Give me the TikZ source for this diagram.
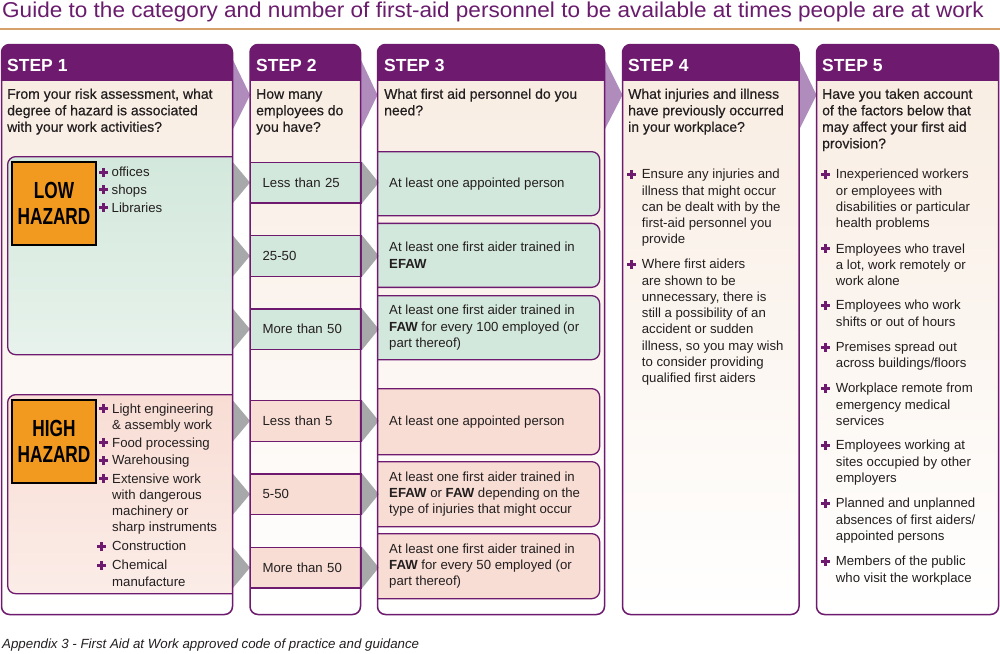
\documentclass[tikz,border=0pt]{standalone}
\usepackage{fontspec}
\setmainfont{Liberation Sans}
\newfontfamily\medfont[FakeBold=0.5]{Liberation Sans}
\usetikzlibrary{calc}
\definecolor{hpurple}{HTML}{6E1A6E}
\definecolor{tpurple}{HTML}{6A1C6C}
\definecolor{chevc}{HTML}{AF8CBC}
\definecolor{beige}{HTML}{F8ECE1}
\definecolor{lgreen}{HTML}{D3E8DC}
\definecolor{lpink}{HTML}{F8DDD4}
\definecolor{orangec}{HTML}{F29A1F}
\definecolor{greyc}{HTML}{A7A8AA}
\definecolor{tdark}{HTML}{231F20}
\definecolor{tanc}{HTML}{D6A06A}
\newcommand\hz[1]{\scalebox{0.74}[1]{\bfseries #1}}
\tikzset{
  txt/.style={anchor=north west, inner sep=0pt, align=left, text=tdark,
    font=\fontsize{13.2}{16.3}\selectfont},
  qtxt/.style={anchor=north west, inner sep=0pt, align=left, text=tdark,
    font=\medfont\fontsize{14}{16.5}\selectfont},
  txtw/.style={anchor=west, inner sep=0pt, align=left, text=tdark,
    font=\fontsize{13.2}{16.3}\selectfont},
  bulfill/.style={fill=hpurple},
  steplbl/.style={anchor=base west, inner sep=0pt, text=white,
    font=\bfseries\fontsize{17.5}{20}\selectfont},
  nbox/.style={anchor=north west, draw=hpurple, line width=1.3pt,
    minimum width=110.5pt, minimum height=40.5pt, text width=86.5pt,
    inner xsep=12pt, inner ysep=0pt, align=left, text=tdark,
    font=\fontsize{13.2}{16.3}\selectfont},
  abox/.style={anchor=north west, draw=hpurple, line width=1.3pt,
    rounded corners=8pt, minimum width=231.5pt, minimum height=64pt, inner sep=0pt},
  hazbox/.style={anchor=north west, draw=hpurple, line width=1.3pt,
    rounded corners=8pt, minimum width=238pt, inner sep=0pt},
  hazlbl/.style={draw=black, line width=1.2pt, fill=orangec, minimum width=84pt,
    minimum height=83pt, inner sep=0pt, align=center, text=black,
    font=\fontsize{23.3}{26.7}\selectfont},
  chev/.style={fill=chevc},
  gtri/.style={fill=greyc},
  colline/.style={draw=hpurple, line width=1.5pt, rounded corners=8pt}
}
% item: name, x, top y, bullet x-offset, text
\newcommand\itm[5]{%
  \node[txt] (#1) at (#2,#3) {\strut #5};
  \coordinate (#1b) at ($(#1.north west)+(#4,7.4)$);
  \fill[bulfill] ($(#1b)+(-4.4,-1.6)$) rectangle ($(#1b)+(4.4,1.6)$);
  \fill[bulfill] ($(#1b)+(-1.6,-4.4)$) rectangle ($(#1b)+(1.6,4.4)$);
}
\begin{document}
\begin{tikzpicture}[x=1pt,y=-1pt]
\useasboundingbox (0,0) rectangle (1000,653);
\fill[white] (0,0) rectangle (1000,653);

% title
\node[anchor=base west, inner sep=0pt, text=tpurple,
  font=\fontsize{21.5}{24}\selectfont] (title) at (2,17)
  {\scalebox{1.049}[1]{Guide to the category and number of first-aid personnel to be available at times people are at work}};
\draw[tanc, line width=2pt] (0,29) -- (1000,29);

% chevrons between columns
\foreach \xa/\xb in {232.5/250, 360.5/377.5, 604.5/622.5, 799/816.5}
  \fill[chev] (\xa,59) -- (\xb,95) -- (\xa,130) -- cycle;

% column backgrounds and headers
\foreach \xa/\xb in {1.5/232.5, 250/360.5, 377.5/604.5, 622.5/799, 816.5/998.5}{
  \fill[top color=beige, bottom color=white, rounded corners=8pt]
    (\xa,44.5) rectangle (\xb,614.5);
  \begin{scope}
    \clip (\xa-5,0) rectangle (\xb+5,80);
    \fill[hpurple, rounded corners=8pt] (\xa,44.5) rectangle (\xb,614.5);
  \end{scope}
}

% hazard boxes in step 1
\begin{scope}
  \clip (0,0) rectangle (232.5,653);
  \node[hazbox, minimum height=198pt, top color=lgreen, middle color=lgreen,
    bottom color=lgreen!55!white] (lowbox) at (7,156) {};
  \node[hazbox, minimum height=199pt, top color=lpink, middle color=lpink,
    bottom color=lpink!55!white] (highbox) at (7,394) {};
\end{scope}

% step 2 boxes
\node[nbox, fill=lgreen] (l1) at (250,161.7) {Less than 25};
\node[nbox, fill=lgreen] (l2) at (250,235) {25-50};
\node[nbox, fill=lgreen] (l3) at (250,308.3) {More than 50};
\node[nbox, fill=lpink] (h1) at (250,400) {Less than 5};
\node[nbox, fill=lpink] (h2) at (250,473.3) {5-50};
\node[nbox, fill=lpink] (h3) at (250,546.7) {More than 50};

% step 3 boxes
\begin{scope}
  \clip (377.5,0) rectangle (1000,653);
  \node[abox, fill=lgreen] (a1) at (367.5,151) {};
  \node[abox, fill=lgreen] (a2) at (367.5,222.7) {};
  \node[abox, fill=lgreen] (a3) at (367.5,295) {};
  \node[abox, fill=lpink, minimum height=66pt] (b1) at (367.5,388) {};
  \node[abox, fill=lpink, minimum height=65pt] (b2) at (367.5,461) {};
  \node[abox, fill=lpink, minimum height=65pt] (b3) at (367.5,533) {};
\end{scope}

% grey arrows
\foreach \b in {l1,l2,l3,h1,h2,h3}{
  \fill[gtri] ([xshift=-17.5pt]\b.north west) -- (\b.west) -- ([xshift=-17.5pt]\b.south west) -- cycle;
  \fill[gtri] (\b.north east) -- ([xshift=17pt]\b.east) -- (\b.south east) -- cycle;
}

% column outlines
\foreach \xa/\xb in {1.5/232.5, 250/360.5, 377.5/604.5, 622.5/799, 816.5/998.5}
  \draw[colline] (\xa,44.5) rectangle (\xb,614.5);

% step headers
\node[steplbl] (s1) at (7,71) {STEP 1};
\node[steplbl] (s2) at (256,71) {STEP 2};
\node[steplbl] (s3) at (384,71) {STEP 3};
\node[steplbl] (s4) at (628,71) {STEP 4};
\node[steplbl] (s5) at (822,71) {STEP 5};

% questions
\node[qtxt] (q1) at (7,87) {\strut From your risk assessment, what\\degree of hazard is associated\\with your work activities?};
\node[qtxt] (q2) at (256,87) {\strut How many\\employees do\\you have?};
\node[qtxt] (q3) at (384,87) {\strut What first aid personnel do you\\need?};
\node[qtxt] (q4) at (628,87) {\strut What injuries and illness\\have previously occurred\\in your workplace?};
\node[qtxt] (q5) at (822,87) {\strut Have you taken account\\of the factors below that\\may affect your first aid\\provision?};

% hazard labels
\node[hazlbl] (lowlbl) at (54,203.5) {\hz{LOW}\\\hz{HAZARD}};
\node[hazlbl] (highlbl) at (54,441.5) {\hz{HIGH}\\\hz{HAZARD}};

% step 1 items
\itm{lo1}{111.5}{164.8}{-8}{offices}
\itm{lo2}{111.5}{182.4}{-8}{shops}
\itm{lo3}{111.5}{200.4}{-8}{Libraries}
\itm{hi1}{112}{401.4}{-8.2}{Light engineering\\\& assembly work}
\itm{hi2}{112}{435.4}{-8.2}{Food processing}
\itm{hi3}{112}{453.1}{-8.2}{Warehousing}
\itm{hi4}{112}{471.4}{-8.2}{Extensive work\\with dangerous\\machinery or\\sharp instruments}
\itm{hi5}{112}{538.8}{-10.3}{Construction}
\itm{hi6}{112}{558.1}{-10.3}{Chemical\\manufacture}

% step 3 texts
\node[txtw] (a1t) at ([xshift=21.5pt]a1.west) {At least one appointed person};
\node[txtw] (a2t) at ([xshift=21.5pt]a2.west) {At least one first aider trained in\\\textbf{EFAW}};
\node[txtw] (a3t) at ([xshift=21.5pt]a3.west) {At least one first aider trained in\\\textbf{FAW} for every 100 employed (or\\part thereof)};
\node[txtw] (b1t) at ([xshift=21.5pt]b1.west) {At least one appointed person};
\node[txtw] (b2t) at ([xshift=21.5pt]b2.west) {At least one first aider trained in\\\textbf{EFAW} or \textbf{FAW} depending on the\\type of injuries that might occur};
\node[txtw] (b3t) at ([xshift=21.5pt]b3.west) {At least one first aider trained in\\\textbf{FAW} for every 50 employed (or\\part thereof)};

% step 4 items
\itm{f1}{641.7}{167.1}{-10.2}{Ensure any injuries and\\illness that might occur\\can be dealt with by the\\first-aid personnel you\\provide}
\itm{f2}{641.7}{257.1}{-10.2}{Where first aiders\\are shown to be\\unnecessary, there is\\still a possibility of an\\accident or sudden\\illness, so you may wish\\to consider providing\\qualified first aiders}

% step 5 items
\itm{g1}{835.7}{167.1}{-9.9}{Inexperienced workers\\or employees with\\disabilities or particular\\health problems}
\itm{g2}{835.7}{241.4}{-9.9}{Employees who travel\\a lot, work remotely or\\work alone}
\itm{g3}{835.7}{298.1}{-9.9}{Employees who work\\shifts or out of hours}
\itm{g4}{835.7}{339.8}{-9.9}{Premises spread out\\across buildings/floors}
\itm{g5}{835.7}{381.1}{-9.9}{Workplace remote from\\emergency medical\\services}
\itm{g6}{835.7}{438.1}{-9.9}{Employees working at\\sites occupied by other\\employers}
\itm{g7}{835.7}{496.1}{-9.9}{Planned and unplanned\\absences of first aiders/\\appointed persons}
\itm{g8}{835.7}{554.1}{-9.9}{Members of the public\\who visit the workplace}

% footer
\node[anchor=base west, inner sep=0pt, text=tdark,
  font=\itshape\fontsize{13.3}{15}\selectfont] (foot) at (2,648)
  {Appendix 3 - First Aid at Work approved code of practice and guidance};
\end{tikzpicture}
\end{document}
